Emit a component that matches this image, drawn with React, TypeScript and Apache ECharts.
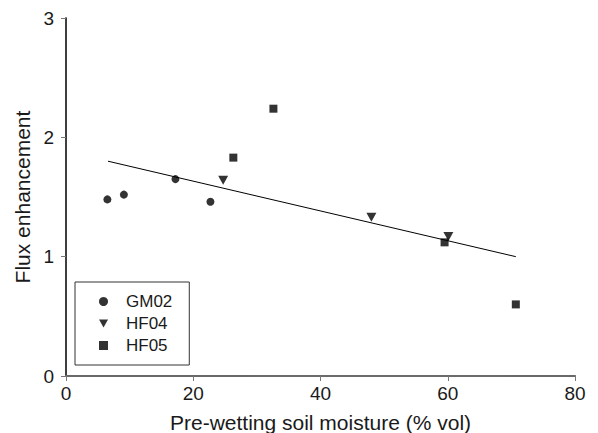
import React, { useEffect, useRef } from "react";
import * as echarts from "echarts";

const gm02X = [6.5, 9.1, 17.2, 22.7];
const gm02Y = [1.48, 1.52, 1.65, 1.46];
const hf04X = [24.7, 48.0, 60.1];
const hf04Y = [1.64, 1.33, 1.17];
const hf05X = [26.3, 32.6, 59.5, 70.7];
const hf05Y = [1.83, 2.24, 1.12, 0.6];
const trendX = [6.6, 70.7];
const trendY = [1.8, 1.0];
const xTicks = [0, 20, 40, 60, 80];
const yTicks = [0, 1, 2, 3];
const seriesNames = ["GM02", "HF04", "HF05"];

const FONT = "'Liberation Sans', Arial, Helvetica, sans-serif";
const TRI = "path://M0,0L10,0L5,9Z";

function pairs(xs: number[], ys: number[]) {
  return xs.map((x, i) => [x, ys[i]]);
}

export default function App() {
  const ref = useRef<HTMLDivElement>(null);
  useEffect(() => {
    if (!ref.current) return;
    const chart = echarts.init(ref.current, undefined, { renderer: "svg" });
    const axisLabel = { color: "#1a1a1a", fontSize: 19, fontFamily: FONT };
    chart.setOption({
      animation: false,
      backgroundColor: "#ffffff",
      grid: { left: 66, right: 23, top: 18, bottom: 57, outerBoundsMode: "none", containLabel: false },
      legend: {
        show: true,
        data: seriesNames,
        orient: "vertical",
        left: 75,
        top: 282,
        padding: [11, 17, 11, 24],
        itemGap: 5,
        itemWidth: 9,
        itemHeight: 9,
        borderColor: "#333",
        borderWidth: 1,
        borderRadius: 0,
        textStyle: { color: "#1a1a1a", fontSize: 17, fontFamily: FONT, lineHeight: 17, padding: [0, 0, 0, 13] },
      },
      xAxis: [
        {
          type: "value",
          min: xTicks[0],
          max: xTicks[xTicks.length - 1],
          interval: xTicks[1] - xTicks[0],
          position: "bottom",
          name: "Pre-wetting soil moisture (% vol)",
          nameLocation: "middle",
          nameGap: 36,
          nameTextStyle: { color: "#1a1a1a", fontSize: 21, fontFamily: FONT },
          axisLine: { show: true, lineStyle: { color: "#777", width: 2 } },
          axisTick: { show: true, inside: false, length: 5, lineStyle: { color: "#777", width: 1 } },
          axisLabel: { ...axisLabel, margin: 8 },
          splitLine: { show: false },
        },
        {
          type: "value",
          min: xTicks[0],
          max: xTicks[xTicks.length - 1],
          position: "top",
          axisLine: { show: true, lineStyle: { color: "#666", width: 1.5 } },
          axisTick: { show: false },
          axisLabel: { show: false },
          splitLine: { show: false },
        },
      ],
      yAxis: [
        {
          type: "value",
          min: yTicks[0],
          max: yTicks[yTicks.length - 1],
          interval: yTicks[1] - yTicks[0],
          position: "left",
          name: "Flux enhancement",
          nameLocation: "middle",
          nameGap: 32,
          nameTextStyle: { color: "#1a1a1a", fontSize: 21, fontFamily: FONT },
          axisLine: { show: true, lineStyle: { color: "#777", width: 1.5 } },
          axisTick: { show: true, inside: false, length: 5, lineStyle: { color: "#777", width: 1 } },
          axisLabel: { ...axisLabel, margin: 12 },
          splitLine: { show: false },
        },
        {
          type: "value",
          min: yTicks[0],
          max: yTicks[yTicks.length - 1],
          position: "right",
          axisLine: { show: true, lineStyle: { color: "#222", width: 1.5 } },
          axisTick: { show: false },
          axisLabel: { show: false },
          splitLine: { show: false },
        },
      ],
      series: [
        {
          name: "trend",
          type: "line",
          data: pairs(trendX, trendY),
          showSymbol: false,
          symbol: "none",
          lineStyle: { color: "#000", width: 1 },
          silent: true,
          z: 1,
        },
        {
          name: seriesNames[0],
          type: "scatter",
          data: pairs(gm02X, gm02Y),
          symbol: "circle",
          symbolSize: 8,
          itemStyle: { color: "#000" },
          z: 3,
        },
        {
          name: seriesNames[1],
          type: "scatter",
          data: pairs(hf04X, hf04Y),
          symbol: TRI,
          symbolSize: [10, 9],
          itemStyle: { color: "#000" },
          z: 3,
        },
        {
          name: seriesNames[2],
          type: "scatter",
          data: pairs(hf05X, hf05Y),
          symbol: "rect",
          symbolSize: 8,
          itemStyle: { color: "#000" },
          z: 3,
        },
      ],
    });
    return () => chart.dispose();
  }, []);
  return (
    <div
      ref={ref}
      style={{ position: "fixed", left: 0, top: 0, width: 598, height: 433, background: "#fff" }}
    />
  );
}
